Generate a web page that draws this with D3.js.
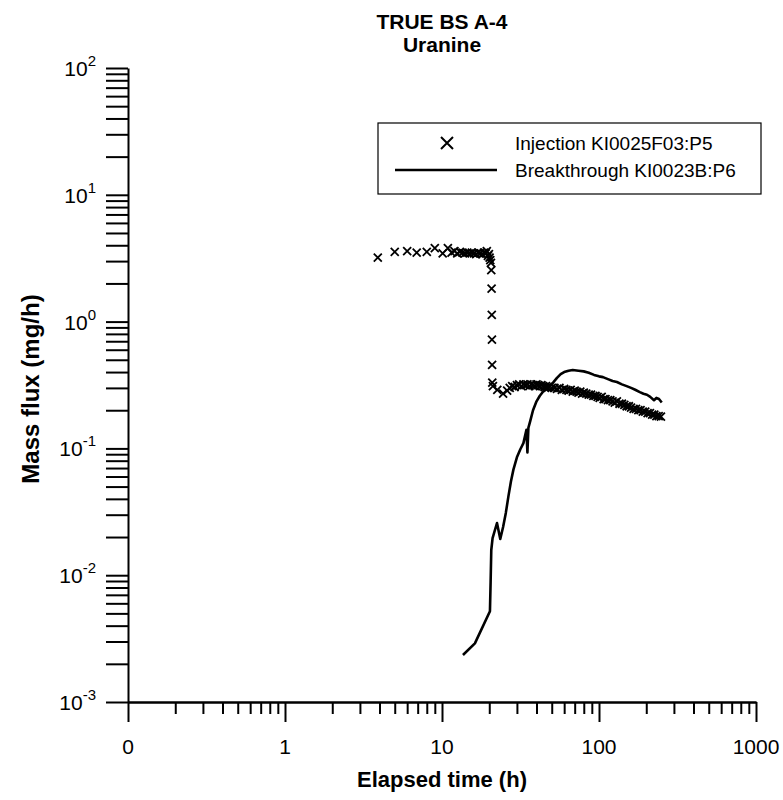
<!DOCTYPE html>
<html>
<head>
<meta charset="utf-8">
<script src="https://cdn.jsdelivr.net/npm/d3@7"></script>
<style>
  body { margin: 0; background: #fff; }
  svg { display: block; }
  text { font-family: "Liberation Sans", Arial, Helvetica, sans-serif; fill: #000; }
</style>
</head>
<body>
<svg id="chart" width="783" height="800"></svg>
<script>
// Injection mass flux, KI0025F03:P5 (time in h, flux in mg/h)
const injTime = [3.9, 5.0, 6.0, 6.9, 8.0, 9.0, 10.1, 10.9, 11.5, 12.0, 12.5, 13.0, 13.5, 14.0, 14.5, 15.0,
  15.5, 16.0, 16.5, 17.0, 17.5, 18.0, 18.5, 19.0, 19.3, 19.6, 19.9, 20.1, 20.3, 20.5, 20.6, 20.7, 20.75,
  20.8, 20.85, 20.9, 21.1, 22.5, 24.5, 26.0, 27.0, 28.0, 29.0, 30, 31, 32, 33, 34, 35, 36, 37, 38, 39,
  40, 41, 42, 43, 44, 45, 46, 47, 48, 50, 52, 54, 56, 58, 60, 62, 64, 66, 68, 70, 72, 74, 76, 78, 80,
  83, 86, 89, 92, 95, 98, 101, 104, 107, 110, 114, 118, 122, 126, 130, 135, 140, 145, 150, 155, 160,
  166, 172, 178, 184, 190, 197, 204, 211, 218, 225, 232, 240, 248];
const injFlux = [3.2, 3.55, 3.6, 3.5, 3.55, 3.8, 3.45, 3.8, 3.5, 3.6, 3.45, 3.55, 3.5, 3.45, 3.5, 3.45,
  3.5, 3.45, 3.4, 3.5, 3.45, 3.4, 3.5, 3.45, 3.6, 3.3, 3.4, 3.2, 3.05, 2.9, 2.55, 1.82, 1.13,
  0.72, 0.455, 0.33, 0.31, 0.29, 0.27, 0.285, 0.30, 0.31, 0.305, 0.315, 0.32, 0.31, 0.32, 0.315, 0.32,
  0.31, 0.32, 0.315, 0.31, 0.32, 0.315, 0.31, 0.315, 0.31, 0.305, 0.31, 0.30, 0.305, 0.30, 0.30, 0.295,
  0.30, 0.29, 0.295, 0.29, 0.285, 0.29, 0.28, 0.285, 0.28, 0.275, 0.28, 0.27, 0.275, 0.27, 0.265, 0.265,
  0.26, 0.26, 0.255, 0.25, 0.255, 0.245, 0.245, 0.24, 0.24, 0.235, 0.23, 0.235, 0.225, 0.225, 0.22,
  0.215, 0.215, 0.21, 0.205, 0.205, 0.2, 0.2, 0.195, 0.195, 0.19, 0.19, 0.185, 0.185, 0.18, 0.18, 0.178];

// Breakthrough mass flux, KI0023B:P6
const btcTime = [13.6, 16.2, 20.2, 20.4, 20.6, 21.0, 22.4, 23.5, 24.5, 25.5, 26.5, 27.5, 28.5, 30.0,
  31.5, 33.0, 34.5, 35.0, 35.5, 36.5, 38.0, 40.0, 42.0, 45.0, 48.0, 51.0, 54.0, 57.0, 60.0, 64.0, 68.0,
  74.0, 80.0, 86.0, 93.0, 100, 106, 115, 122, 130, 140, 150, 160, 170, 182, 192, 202, 212, 224, 232,
  241, 251];
const btcFlux = [0.00235, 0.0029, 0.0052, 0.0088, 0.0158, 0.0196, 0.0258, 0.0193, 0.024, 0.031, 0.042,
  0.055, 0.068, 0.085, 0.098, 0.11, 0.14, 0.093, 0.145, 0.165, 0.2, 0.235, 0.26, 0.29, 0.31, 0.33,
  0.36, 0.385, 0.40, 0.41, 0.415, 0.41, 0.405, 0.395, 0.38, 0.37, 0.365, 0.35, 0.34, 0.334, 0.32,
  0.31, 0.30, 0.29, 0.278, 0.27, 0.265, 0.255, 0.24, 0.25, 0.245, 0.23];

const xMajor = [0.1, 1, 10, 100, 1000];
const xTickLabels = ["0", "1", "10", "100", "1000"];
const yMajor = [100, 10, 1, 0.1, 0.01, 0.001];
const yExponents = ["2", "1", "0", "-1", "-2", "-3"];

const titleLines = ["TRUE BS A-4", "Uranine"];
const legendLabels = ["Injection KI0025F03:P5", "Breakthrough KI0023B:P6"];

const svg = d3.select("#chart");
const x = d3.scaleLog().domain([0.1, 1000]).range([128, 756]);
const y = d3.scaleLog().domain([0.001, 100]).range([702, 68]);

// Title
svg.selectAll("text.title").data(titleLines).join("text")
  .attr("class", "title")
  .attr("x", 442).attr("y", (d, i) => 29 + i * 23)
  .attr("text-anchor", "middle")
  .style("font-size", "21px").style("font-weight", "bold")
  .text(d => d);

// Y axis: every decade subdivision gets the same tick length
const gy = svg.append("g").attr("transform", "translate(128,0)")
  .call(d3.axisLeft(y).tickValues(y.ticks()).tickSize(22).tickSizeOuter(0).tickFormat(""));
gy.selectAll("path, line").attr("stroke", "#000").attr("stroke-width", 2);

// X axis: long ticks at decades, short ticks between
const xMinor = x.ticks().filter(t => !xMajor.some(m => Math.abs(m - t) / m < 1e-9));
const gxMinor = svg.append("g").attr("transform", "translate(0,702)")
  .call(d3.axisBottom(x).tickValues(xMinor).tickSize(12).tickSizeOuter(0).tickFormat(""));
const gxMajor = svg.append("g").attr("transform", "translate(0,702)")
  .call(d3.axisBottom(x).tickValues(xMajor).tickSize(20).tickSizeOuter(0).tickFormat(""));
[gxMinor, gxMajor].forEach(g => g.selectAll("path, line").attr("stroke", "#000").attr("stroke-width", 2));

// X tick labels
svg.selectAll("text.xtl").data(xMajor).join("text")
  .attr("class", "xtl")
  .attr("x", d => x(d)).attr("y", 754)
  .attr("text-anchor", "middle")
  .style("font-size", "21px")
  .text((d, i) => xTickLabels[i]);

// Y tick labels as powers of ten
const ytl = svg.selectAll("text.ytl").data(yMajor).join("text")
  .attr("class", "ytl")
  .attr("x", 96).attr("y", d => y(d) + 8)
  .attr("text-anchor", "end")
  .style("font-size", "21px");
ytl.append("tspan").text("10");
ytl.append("tspan").attr("dy", -10).style("font-size", "15px").text((d, i) => yExponents[i]);

// Axis titles
svg.append("text")
  .attr("x", 442).attr("y", 787)
  .attr("text-anchor", "middle")
  .style("font-size", "22px").style("font-weight", "bold")
  .text("Elapsed time (h)");
svg.append("text")
  .attr("transform", "translate(39,389) rotate(-90)")
  .attr("text-anchor", "middle")
  .style("font-size", "24px").style("font-weight", "bold")
  .text("Mass flux (mg/h)");

// Breakthrough curve
const btc = btcTime.map((t, i) => [t, btcFlux[i]]);
svg.append("path")
  .datum(btc)
  .attr("fill", "none").attr("stroke", "#000").attr("stroke-width", 2.6)
  .attr("stroke-linejoin", "round")
  .attr("d", d3.line().x(d => x(d[0])).y(d => y(d[1])));

// Injection markers
const crossPath = r => `M${-r},${-r}L${r},${r}M${-r},${r}L${r},${-r}`;
const inj = injTime.map((t, i) => [t, injFlux[i]]);
svg.append("g").selectAll("path").data(inj).join("path")
  .attr("transform", d => `translate(${x(d[0])},${y(d[1])})`)
  .attr("d", crossPath(4))
  .attr("fill", "none").attr("stroke", "#000").attr("stroke-width", 1.8);

// Legend
const lg = svg.append("g");
lg.append("rect").attr("x", 378).attr("y", 123).attr("width", 383).attr("height", 71)
  .attr("fill", "#fff").attr("stroke", "#000").attr("stroke-width", 1.2);
lg.append("path").attr("transform", "translate(447,143)").attr("d", crossPath(6))
  .attr("fill", "none").attr("stroke", "#000").attr("stroke-width", 2);
lg.append("line").attr("x1", 395).attr("x2", 497).attr("y1", 170).attr("y2", 170)
  .attr("stroke", "#000").attr("stroke-width", 2.6);
lg.selectAll("text").data(legendLabels).join("text")
  .attr("x", 515).attr("y", (d, i) => 150 + i * 27)
  .style("font-size", "19px")
  .text(d => d);
</script>
</body>
</html>
